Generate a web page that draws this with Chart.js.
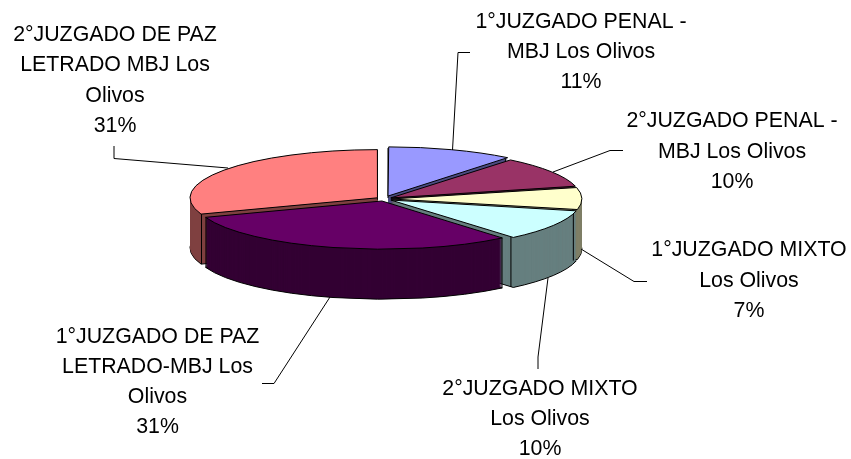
<!DOCTYPE html>
<html><head><meta charset="utf-8">
<style>html,body{margin:0;padding:0;background:#fff}canvas{display:block}</style>
<script src="https://cdn.jsdelivr.net/npm/chart.js@4/dist/chart.umd.min.js"></script>
</head><body><canvas id="c" width="851" height="459"></canvas>
<script>
const categories=[["1°JUZGADO PENAL -","MBJ Los Olivos"],["2°JUZGADO PENAL -","MBJ Los Olivos"],["1°JUZGADO MIXTO","Los Olivos"],["2°JUZGADO MIXTO","Los Olivos"],["1°JUZGADO DE PAZ","LETRADO-MBJ Los","Olivos"],["2°JUZGADO DE PAZ","LETRADO MBJ Los","Olivos"]];
const values=[10.8,10.4,7.3,10.4,30.6,30.5];
const topColors=["#9999FF","#993366","#FFFFCC","#CCFFFF","#660066","#FF8080"];
const sideColors=["#4C4C80","#4C1933","#7F7F66","#667F7F","#330033","#7F4040"];
const explode=[48,32,28,32,32,32];
const drawOrder=[5,0,1,2,3,4];
const labelPos=[[581,28,30],[732,127,30.5],[749,256,30.5],[540,395,30],[157.5,343,30],[115,41,30.4]];
const leaders=[[[452.5,150],[458,52.5],[470,52.5]],[[553,172],[610,150.5],[623,150.5]],[[581,249],[634,281.5],[647,281.5]],[[548,278],[538,357],[538,369]],[[330,297],[274,383.5],[262,383.5]],[[228,168],[114,158.5],[114,146]]];
const SY=0.257, DEPTH=50;
const pie3d={id:'pie3d',
 beforeDatasetDraw(chart){
  const ctx=chart.ctx,meta=chart.getDatasetMeta(0);
  const cx=meta.data[0].x,cy=meta.data[0].y;
  const origStroke=ctx.stroke;
  ctx.stroke=function(){ctx.save();ctx.setTransform(1,0,0,1,0,0);origStroke.apply(ctx,arguments);ctx.restore();};
  const squash=(k)=>{ctx.translate(cx,cy+k);ctx.scale(1,SY);ctx.translate(-cx,-cy);};
  const paint=(arc,opts,k)=>{const o=arc.options;arc.options=Object.assign({},o,opts);ctx.save();squash(k);arc.draw(ctx);ctx.restore();arc.options=o;};
  drawOrder.forEach(i=>{
   const arc=meta.data[i],side=sideColors[i];
   paint(arc,{backgroundColor:side,borderColor:'#000',borderWidth:1},DEPTH);
   for(let k=DEPTH-1;k>0;k--)paint(arc,{backgroundColor:side,borderColor:side,borderWidth:0},k);
   const mid=(arc.startAngle+arc.endAngle)/2,off=explode[i]/4,R=arc.outerRadius;
   ctx.save();ctx.strokeStyle='#000';ctx.lineWidth=1;
   [arc.startAngle,arc.endAngle].forEach(a=>{
    const x=cx+Math.cos(mid)*off+R*Math.cos(a),y=cy+SY*(Math.sin(mid)*off+R*Math.sin(a));
    ctx.beginPath();ctx.moveTo(x,y);ctx.lineTo(x,y+DEPTH);origStroke.call(ctx);
   });
   ctx.restore();
   paint(arc,{backgroundColor:topColors[i],borderColor:'#000',borderWidth:1},0);
  });
  ctx.stroke=origStroke;
  return false;
 },
 afterDraw(chart){
  const ctx=chart.ctx,total=values.reduce((a,b)=>a+b,0);
  ctx.save();ctx.strokeStyle='#000';ctx.lineWidth=1;
  leaders.forEach(l=>{ctx.beginPath();l.forEach((p,j)=>j?ctx.lineTo(p[0],p[1]):ctx.moveTo(p[0],p[1]));ctx.stroke();});
  ctx.fillStyle='#000';ctx.font='21.33px "Liberation Sans"';ctx.textAlign='center';ctx.textBaseline='alphabetic';
  categories.forEach((lines,i)=>{
   const [x,y,lh]=labelPos[i];
   [...lines,Math.round(values[i]/total*100)+'%'].forEach((t,j)=>ctx.fillText(t,x,y+j*lh));
  });
  ctx.restore();
 }
};
new Chart(document.getElementById('c'),{type:'pie',
 data:{labels:categories.map(c=>c.join(' ')),datasets:[{data:values,backgroundColor:topColors,borderColor:'#000',borderWidth:1,offset:explode}]},
 options:{responsive:false,animation:false,radius:187,layout:{padding:{right:83,bottom:61}},plugins:{legend:{display:false},tooltip:{enabled:false},title:{display:false}}},
 plugins:[pie3d]});
</script></body></html>
